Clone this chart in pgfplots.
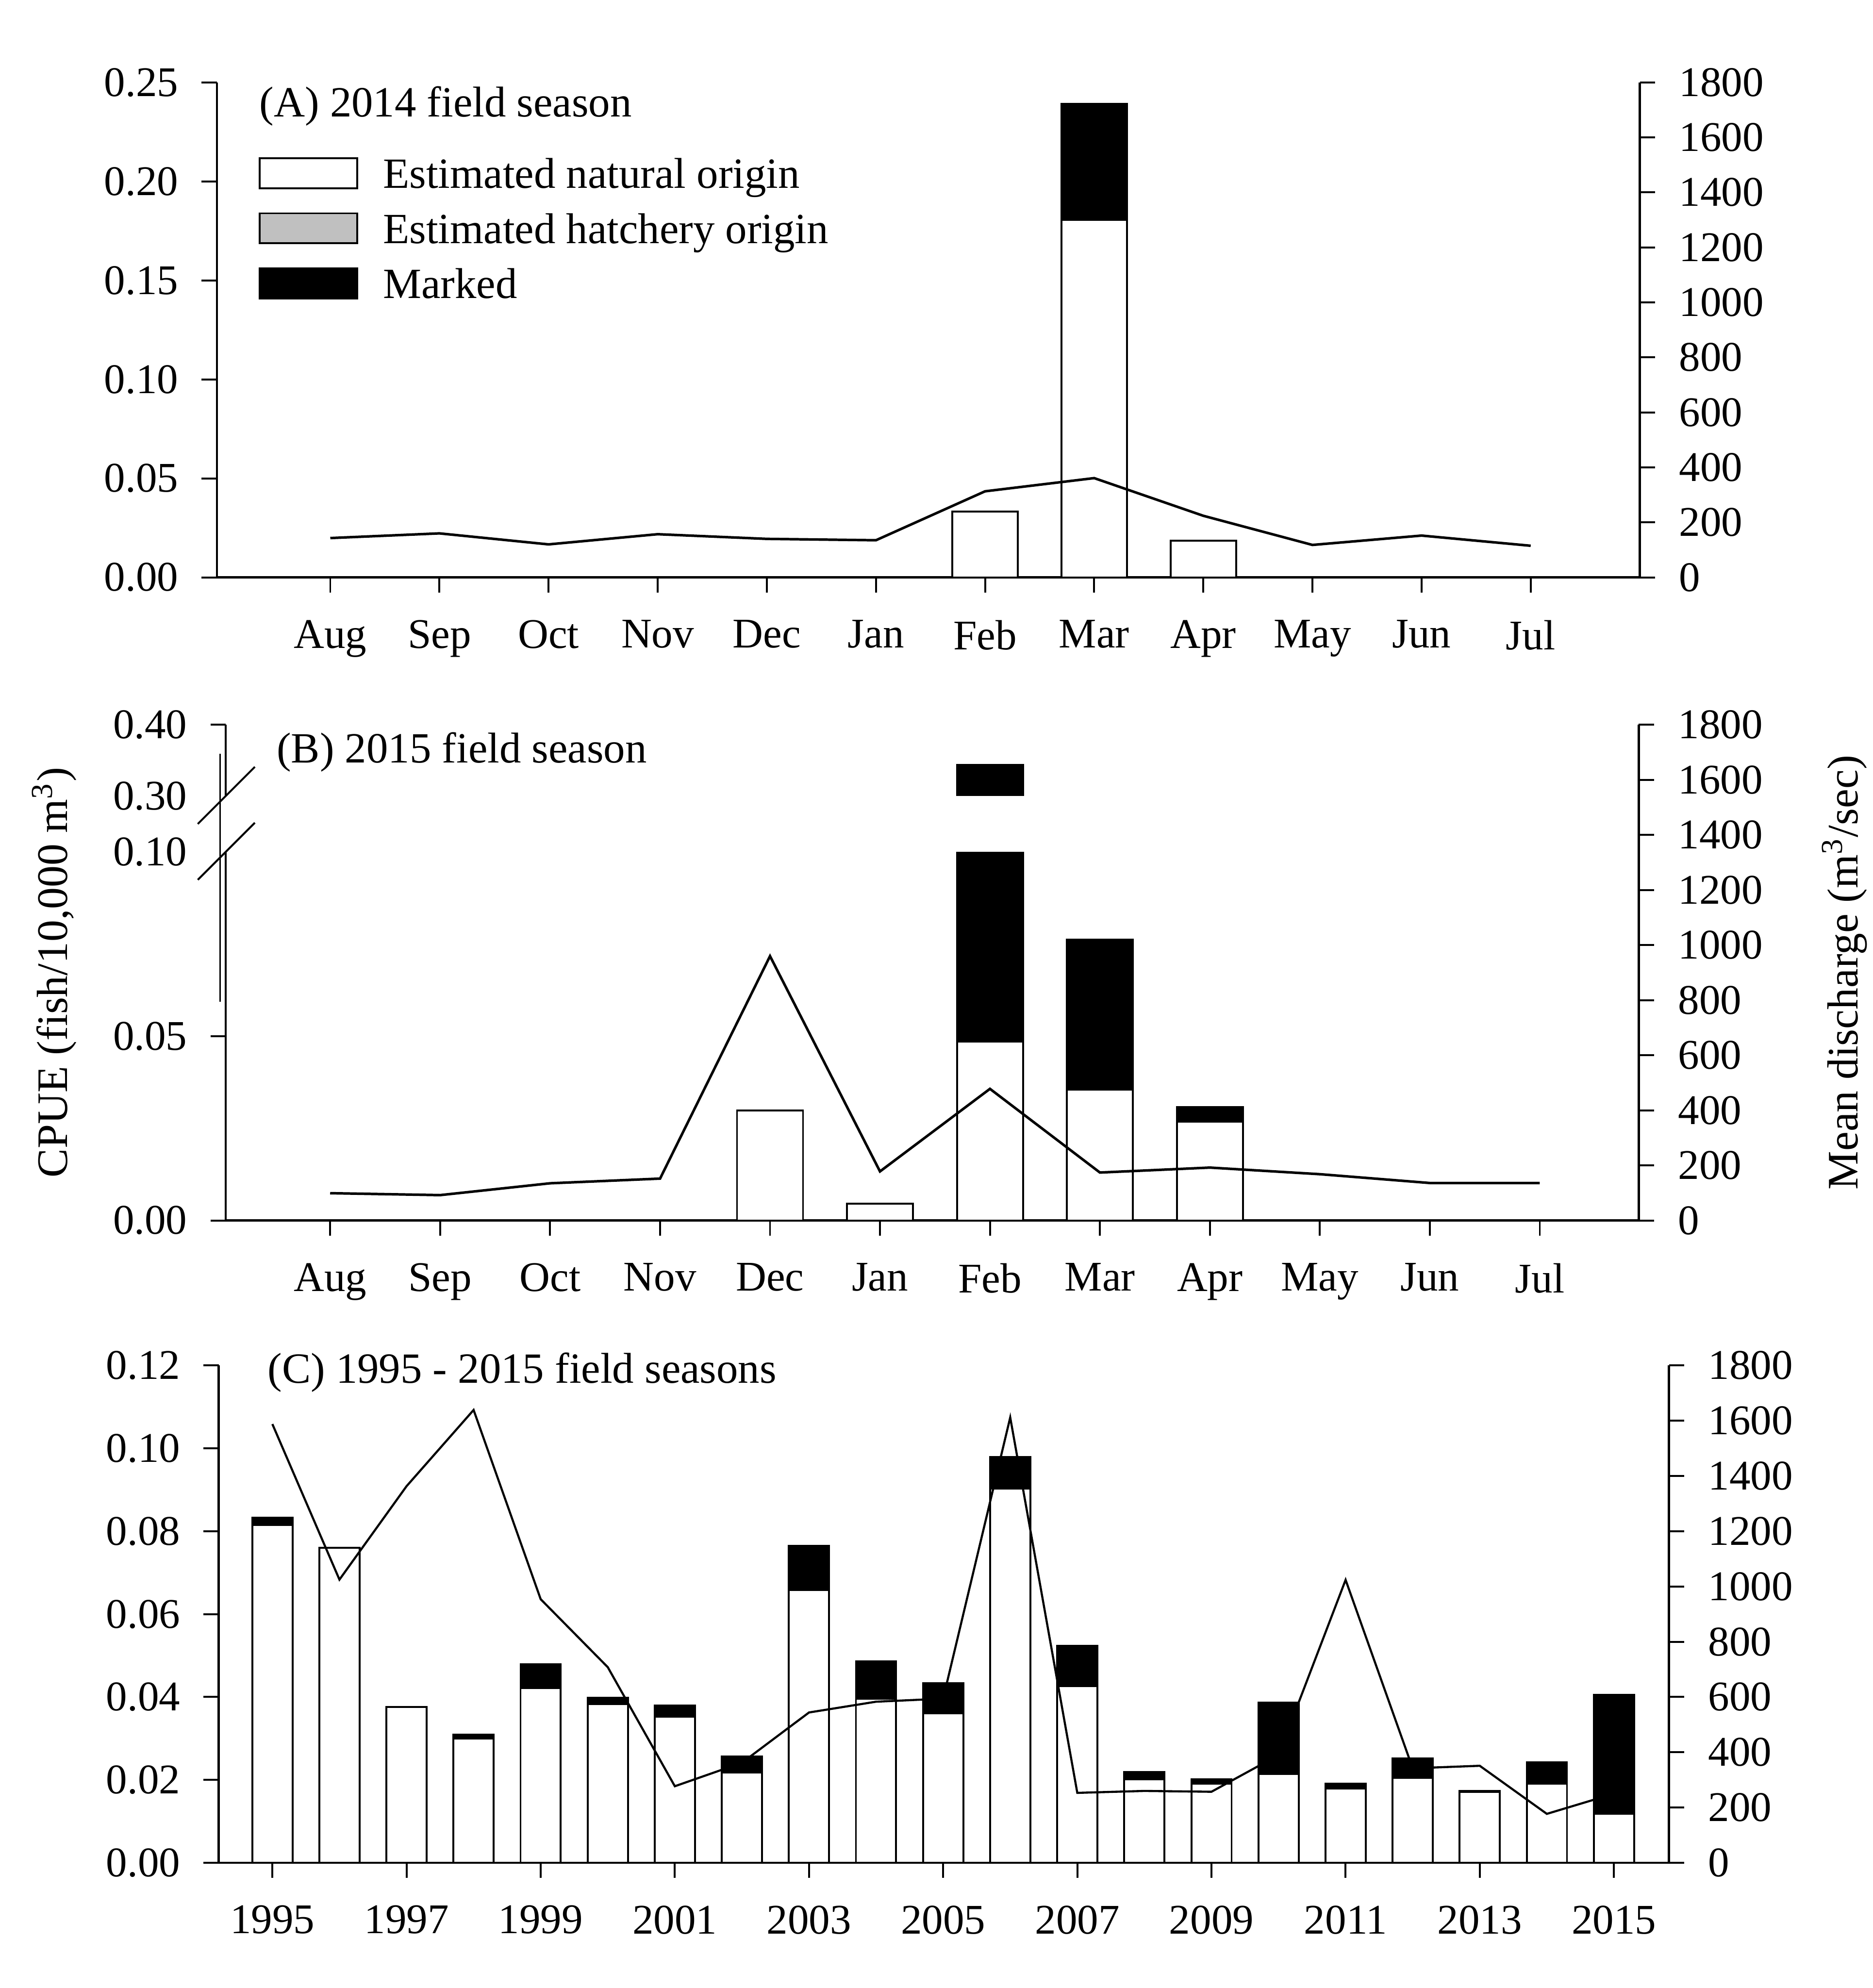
\documentclass[border=0pt]{standalone}
\usepackage{fontspec}
\setmainfont{Liberation Serif}
\usepackage{pgfplots}
\usepackage{pgfplotstable}
\pgfplotsset{compat=1.18}

\definecolor{hatchgray}{RGB}{192,192,192}

% (A) 2014 season, months counted from Aug = 0
\pgfplotstableread{
month natural total
6 0.0332 0.0332
7 0.1806 0.2391
8 0.0186 0.0186
}\barsA
\pgfplotstableread{
month flow
0 143
1 160
2 120
3 157
4 140
5 135
6 313
7 361
8 224
9 118
10 152
11 115
}\flowA

% (B) 2015 season
\pgfplotstableread{
month natural total
4 0.0298 0.0298
5 0.0046 0.0046
6 0.0485 0.344
7 0.0355 0.0762
8 0.0268 0.0307
}\barsB
\pgfplotstableread{
month flow
0 99
1 92
2 135
3 152
4 960
5 178
6 478
7 174
8 192
9 168
10 136
11 136
}\flowB

% (C) 1995 - 2015
\pgfplotstableread{
year natural total flow
1995 0.0815 0.0833 1588
1996 0.0760 0.0760 1025
1997 0.0376 0.0376 1363
1998 0.0300 0.0309 1639
1999 0.0422 0.0479 954
2000 0.0383 0.0398 708
2001 0.0352 0.0380 277
2002 0.0218 0.0256 362
2003 0.0658 0.0765 544
2004 0.0396 0.0486 583
2005 0.0361 0.0433 594
2006 0.0903 0.0979 1612
2007 0.0426 0.0524 253
2008 0.0201 0.0219 260
2009 0.0191 0.0201 257
2010 0.0214 0.0387 390
2011 0.0179 0.0191 1024
2012 0.0205 0.0252 342
2013 0.0171 0.0173 351
2014 0.0191 0.0243 177
2015 0.0118 0.0405 250
}\seasonsC

\pgfplotsset{
  base/.style={
    scale only axis,
    tick align=outside,
    major tick length=3.6pt,
    axis line style={line width=0.5pt},
    major tick style={line width=0.45pt, black},
    tick label style={font=\fontsize{10}{12}\selectfont},
    /pgf/number format/assume math mode=true,
    /pgf/number format/1000 sep={},
  },
  cpue/.style={
    base,
    axis x line*=bottom,
    axis y line*=left,
    ymin=0,
    bar width=0.6,
    clip=false,
    xticklabel style={yshift=-3pt},
    yticklabel style={xshift=-2pt, /pgf/number format/.cd, fixed, fixed zerofill, precision=2},
  },
  flowax/.style={
    base,
    axis x line=none,
    axis y line*=right,
    ymin=0, ymax=1800,
    ytick={0,200,...,1800},
    yticklabel style={xshift=2.2pt},
  },
  months/.style={
    xtick={0,...,11},
    xticklabels={Aug,Sep,Oct,Nov,Dec,Jan,Feb,Mar,Apr,May,Jun,Jul},
  },
  natural/.style={ybar, bar shift=0pt, fill=white, draw=black, line width=0.45pt},
  marked/.style={ybar, bar shift=0pt, fill=black, draw=black, line width=0.45pt},
  flow/.style={sharp plot, no markers, black, line width=0.6pt},
}
\tikzset{paneltitle/.style={anchor=base west, inner sep=0pt, font=\fontsize{10.2}{12}\selectfont}}

\begin{document}
\begin{tikzpicture}
\path[use as bounding box] (0,0) rectangle (443.1pt,-470.4pt);

% ---------------- panel A ----------------
\begin{axis}[cpue, months, name=A,
  at={(51.3pt,-136.62pt)}, anchor=south west,
  width=336.7pt, height=117.12pt,
  xmin=-1.04, xmax=12.0,
  ymax=0.25, ytick={0,0.05,0.1,0.15,0.2,0.25},
  legend image code/.code={\draw[#1] (0pt,-2.5pt) rectangle (23.1pt,4.6pt);},
  legend cell align=left,
  legend style={at={(0.0294,0.8504)}, anchor=north west, draw=none, fill=none,
    inner sep=0pt, outer sep=0pt, row sep=3.05pt,
    font=\fontsize{10.2}{12}\selectfont,
    nodes={inner sep=0pt, text height=7.5pt, text depth=2.5pt},
    /tikz/every odd column/.append style={column sep=5.9pt}},
]
\addplot[marked, forget plot] table[x=month,y=total]{\barsA};
\addplot[natural, forget plot] table[x=month,y=natural]{\barsA};
\addlegendimage{fill=white, draw=black, line width=0.45pt}
\addlegendentry{Estimated natural origin}
\addlegendimage{fill=hatchgray, draw=black, line width=0.45pt}
\addlegendentry{Estimated hatchery origin}
\addlegendimage{fill=black, draw=black, line width=0.45pt}
\addlegendentry{Marked}
\node[paneltitle] at (rel axis cs:0.0294,0.9308) {(A) 2014 field season};
\end{axis}
\begin{axis}[flowax,
  at={(51.3pt,-136.62pt)}, anchor=south west,
  width=336.7pt, height=117.12pt,
  xmin=-1.04, xmax=12.0]
\addplot[flow] table[x=month,y=flow]{\flowA};
\end{axis}

% ---------------- panel B (broken CPUE axis) ----------------
\begin{axis}[cpue, months, name=B,
  at={(53.4pt,-288.78pt)}, anchor=south west,
  width=334.35pt, height=117.27pt,
  xmin=-0.95, xmax=11.9,
  y coord trafo/.code={\pgfmathparse{#1>0.2 ? 0.115172+(#1-0.3)*0.1931 : #1}},
  ymax=0.4,
  ytick={0,0.05,0.4}, yticklabels={0.00,0.05,0.40},
  extra y ticks={0.1,0.3}, extra y tick labels={0.10,0.30},
  extra y tick style={major tick style={draw=none}},
]
\addplot[marked] table[x=month,y=total]{\barsB};
\addplot[natural] table[x=month,y=natural]{\barsB};
% axis break between 0.10 and 0.30
\fill[white] (rel axis cs:-0.006,0.74359) rectangle (rel axis cs:1,0.85641);
\draw[line width=0.45pt] ([xshift=-6.6pt,yshift=-6.6pt]rel axis cs:0,0.74359) -- ([xshift=6.9pt,yshift=6.9pt]rel axis cs:0,0.74359);
\draw[line width=0.45pt] ([xshift=-6.6pt,yshift=-6.6pt]rel axis cs:0,0.85641) -- ([xshift=6.9pt,yshift=6.9pt]rel axis cs:0,0.85641);
\draw[line width=0.3pt] ([xshift=-1.35pt]rel axis cs:0,0.4415) -- ([xshift=-1.35pt]rel axis cs:0,0.9417);
\node[paneltitle] at (rel axis cs:0.0356,0.9238) {(B) 2015 field season};
\end{axis}
\begin{axis}[flowax,
  at={(53.4pt,-288.78pt)}, anchor=south west,
  width=334.35pt, height=117.27pt,
  xmin=-0.95, xmax=11.9]
\addplot[flow] table[x=month,y=flow]{\flowB};
\end{axis}

% ---------------- panel C ----------------
\begin{axis}[cpue, name=C,
  at={(51.75pt,-440.76pt)}, anchor=south west,
  width=343.14pt, height=117.66pt,
  xmin=1994.2, xmax=2015.82,
  xtick={1995,1997,...,2015},
  ymax=0.12, ytick={0,0.02,0.04,0.06,0.08,0.1,0.12},
]
\addplot[marked] table[x=year,y=total]{\seasonsC};
\addplot[natural] table[x=year,y=natural]{\seasonsC};
\node[paneltitle] at (rel axis cs:0.0332,0.9643) {(C) 1995 - 2015 field seasons};
\end{axis}
\begin{axis}[flowax,
  at={(51.75pt,-440.76pt)}, anchor=south west,
  width=343.14pt, height=117.66pt,
  xmin=1994.2, xmax=2015.82]
\addplot[flow, line width=0.5pt] table[x=year,y=flow]{\seasonsC};
\end{axis}

\node[rotate=90, anchor=base, font=\fontsize{10.3}{12}\selectfont] at (15.93pt,-230.1pt) {CPUE (fish/10,000 m\textsuperscript{3})};
\node[rotate=90, anchor=base, font=\fontsize{10.3}{12}\selectfont] at (439.5pt,-230.1pt) {Mean discharge (m\textsuperscript{3}/sec)};
\end{tikzpicture}
\end{document}
